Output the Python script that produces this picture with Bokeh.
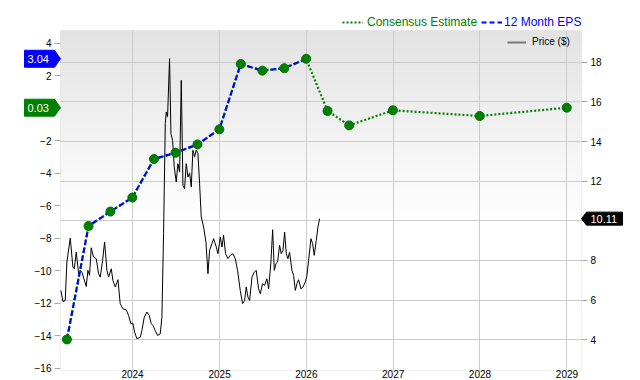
import numpy as np
import pandas as pd
from bokeh.plotting import figure
from bokeh.models import (Range1d, LinearAxis, FixedTicker, DatetimeTickFormatter, Grid,
                          Legend, LegendItem, PolyAnnotation, Label, BoxAnnotation)
from bokeh.embed import file_html
from bokeh.resources import INLINE

# ---------------- data ----------------
eps_dates = ["2023-03-31", "2023-06-30", "2023-09-30", "2023-12-31", "2024-03-31", "2024-06-30",
             "2024-09-30", "2024-12-31", "2025-03-31", "2025-06-30", "2025-09-30", "2025-12-31"]
eps_actual = [-14.23, -7.25, -6.36, -5.50, -3.13, -2.74, -2.23, -1.30, 2.72, 2.31, 2.46, 3.04]

est_dates = ["2025-12-31", "2026-03-31", "2026-06-30", "2026-12-31", "2027-12-31", "2028-12-31"]
est_values = [3.04, -0.17, -1.06, -0.13, -0.48, 0.03]

# price ($): time as decimal year, close
price_year = [
    2023.175, 2023.198, 2023.225, 2023.244, 2023.283, 2023.313, 2023.329, 2023.352, 2023.379, 2023.398,
    2023.417, 2023.467, 2023.486, 2023.505, 2023.524, 2023.551, 2023.582, 2023.609, 2023.628, 2023.655,
    2023.678, 2023.705, 2023.724, 2023.755, 2023.774, 2023.801, 2023.832, 2023.858, 2023.889, 2023.927,
    2023.954, 2023.981, 2024.004, 2024.023, 2024.050, 2024.089, 2024.108, 2024.135, 2024.165, 2024.192,
    2024.215, 2024.235, 2024.261, 2024.288, 2024.319, 2024.338, 2024.357, 2024.377, 2024.388, 2024.403,
    2024.426, 2024.442, 2024.461, 2024.480, 2024.503, 2024.522, 2024.542, 2024.561, 2024.580, 2024.599,
    2024.618, 2024.638, 2024.657, 2024.676, 2024.695, 2024.714, 2024.733, 2024.753, 2024.772, 2024.791,
    2024.818, 2024.845, 2024.868, 2024.887, 2024.914, 2024.933, 2024.964, 2024.983, 2025.010, 2025.029,
    2025.048, 2025.071, 2025.098, 2025.125, 2025.156, 2025.183, 2025.209, 2025.240, 2025.267, 2025.290,
    2025.309, 2025.329, 2025.348, 2025.375, 2025.401, 2025.424, 2025.451, 2025.471, 2025.497, 2025.520,
    2025.547, 2025.567, 2025.593, 2025.613, 2025.632, 2025.651, 2025.670, 2025.693, 2025.712, 2025.732,
    2025.751, 2025.770, 2025.789, 2025.808, 2025.835, 2025.854, 2025.874, 2025.893, 2025.912, 2025.939,
    2025.962, 2025.989, 2026.008, 2026.027, 2026.054, 2026.073, 2026.092, 2026.115, 2026.135, 2026.154]
price_close = [
    6.49, 5.93, 5.98, 7.92, 9.13, 7.67, 7.58, 8.42, 7.33, 7.50,
    7.41, 6.69, 7.50, 7.25, 8.64, 8.17, 8.09, 7.33, 7.16, 8.00,
    8.93, 7.50, 7.16, 7.58, 6.99, 6.66, 7.03, 5.82, 5.56, 5.51,
    5.23, 4.81, 4.84, 4.39, 4.05, 4.13, 4.47, 5.14, 5.40, 5.23,
    4.81, 4.72, 4.47, 4.22, 4.30, 5.14, 9.35, 14.90, 15.49, 15.24,
    18.18, 14.40, 14.06, 12.72, 11.96, 12.88, 12.46, 17.09, 11.79, 11.62,
    12.88, 12.21, 12.41, 11.71, 13.56, 13.22, 13.56, 13.39, 11.87, 10.19,
    9.69, 8.93, 7.33, 8.51, 8.85, 9.10, 8.68, 8.34, 9.18, 8.68,
    9.27, 8.34, 8.09, 8.26, 8.34, 8.09, 7.50, 6.49, 5.82, 5.98,
    6.66, 6.15, 5.98, 7.16, 7.41, 7.50, 6.57, 6.32, 6.83, 6.74,
    7.08, 6.57, 7.92, 9.55, 7.50, 7.84, 7.92, 8.76, 8.34, 8.51,
    9.43, 8.34, 8.09, 8.42, 7.50, 7.25, 6.49, 6.83, 7.03, 6.57,
    6.66, 6.91, 7.25, 8.00, 9.10, 8.85, 8.26, 9.01, 9.69, 10.11]

x_tick_years = [2024, 2025, 2026, 2027, 2028, 2029]
eps_ticks = [-16, -14, -12, -10, -8, -6, -4, -2, 0, 2, 4]
price_ticks = [4, 6, 8, 10, 12, 14, 16, 18]

# ---------------- layout constants ----------------
FONT = "Liberation Sans"
GREEN = "#008000"
BLUE = "#0000ff"
GRID = "#cccccc"

W, H = 640, 380
PL, PR, PT, PB = 60, 581, 30, 370          # plot-area box inside the canvas (px)

x_start = pd.Timestamp("2023-03-04")
x_end = pd.Timestamp("2029-03-03")
eps_lo, eps_hi = -16.14, 4.78
pr_lo, pr_hi = 2.45, 19.6


def year_to_ts(y):
    return pd.Timestamp("2024-01-01") + pd.to_timedelta((y - 2024) * 365.25, unit="D")


def ms(ts):
    return pd.Timestamp(ts).value / 1e6


# the frame covers the whole canvas; ranges are widened so that the data
# window maps onto the plot-area box
xs_ms, xe_ms = ms(x_start), ms(x_end)
x_upp = (xe_ms - xs_ms) / (PR - PL)
x_full = Range1d(xs_ms - PL * x_upp, xe_ms + (W - PR) * x_upp)


def full_range(lo, hi):
    upp = (hi - lo) / (PB - PT)
    return Range1d(lo - (H - PB) * upp, hi + PT * upp), upp


y_full, eps_upp = full_range(eps_lo, eps_hi)
pr_full, pr_upp = full_range(pr_lo, pr_hi)


def price_to_eps(v):
    # same vertical position expressed on the left (EPS) scale
    return eps_lo + (v - pr_lo) / pr_upp * eps_upp


p = figure(width=W, height=H, x_axis_type="datetime", x_range=x_full, y_range=y_full,
           output_backend="svg", toolbar_location=None,
           min_border_left=0, min_border_right=0, min_border_top=0, min_border_bottom=0)
p.extra_y_ranges = {"price": pr_full}
p.background_fill_color = "white"
p.border_fill_color = "white"
p.outline_line_color = None

# gradient background (top grey fading to white)
n = 120
grad_bottom = -6.9
shade = np.linspace(255, 227, n).astype(np.uint8)
img = np.zeros((n, 1), dtype=np.uint32)
view = img.view(dtype=np.uint8).reshape((n, 1, 4))
view[:, 0, 0] = shade
view[:, 0, 1] = shade
view[:, 0, 2] = shade
view[:, 0, 3] = 255
p.image_rgba(image=[img], x=xs_ms, y=grad_bottom, dw=xe_ms - xs_ms, dh=eps_hi - grad_bottom,
             level="image")

# plot-area border
p.add_layout(BoxAnnotation(left=xs_ms, right=xe_ms, bottom=eps_lo, top=eps_hi,
                           fill_alpha=0, line_color=GRID, line_width=1, level="underlay"))

# grids
year_ms = [ms(f"{y}-01-01") for y in x_tick_years]
p.xgrid.visible = False
p.ygrid.visible = False
has_cb = "cross_bounds" in Grid.properties()
if has_cb:
    p.add_layout(Grid(dimension=0, ticker=FixedTicker(ticks=year_ms), grid_line_color=GRID,
                      cross_bounds=(eps_lo, eps_hi)))
    p.add_layout(Grid(dimension=1, ticker=FixedTicker(ticks=price_ticks), y_range_name="price",
                      grid_line_color=GRID, cross_bounds=(xs_ms, xe_ms)))
else:
    p.segment(x0=year_ms, x1=year_ms, y0=[eps_lo] * len(year_ms), y1=[eps_hi] * len(year_ms),
              line_color=GRID, level="underlay")
    p.segment(x0=[xs_ms] * len(price_ticks), x1=[xe_ms] * len(price_ticks), y0=price_ticks,
              y1=price_ticks, y_range_name="price", line_color=GRID, level="underlay")

# axes (fixed at the plot-area edges)
p.xaxis.ticker = FixedTicker(ticks=year_ms)
p.xaxis.formatter = DatetimeTickFormatter(years="%Y", months="%Y", days="%Y")
p.xaxis.fixed_location = eps_lo
p.xaxis.major_tick_out = 0
p.xaxis.major_tick_in = 0
p.xaxis.minor_tick_out = 0
p.xaxis.minor_tick_in = 0
p.xaxis.axis_line_color = None
p.xaxis.major_label_standoff = -1

p.yaxis.ticker = FixedTicker(ticks=eps_ticks)
p.yaxis.fixed_location = xs_ms
right = LinearAxis(y_range_name="price", ticker=FixedTicker(ticks=price_ticks), fixed_location=xe_ms)
p.add_layout(right, "right")
p.yaxis[0].bounds = (min(eps_ticks), max(eps_ticks))
right.bounds = (min(price_ticks), max(price_ticks))
for ax in [p.yaxis[0], right]:
    ax.axis_line_color = None
    ax.major_tick_line_color = "#aaaaaa"
    ax.major_tick_out = 6
    ax.major_tick_in = 0
    ax.minor_tick_out = 0
    ax.minor_tick_in = 0
p.yaxis[0].major_label_standoff = 3
right.major_label_standoff = 3
for ax in [p.xaxis[0], p.yaxis[0], right]:
    ax.major_label_text_font = FONT
    ax.major_label_text_font_size = "10px"
    ax.major_label_text_color = "#000000"

# ---------------- renderers ----------------
pr_dt = [year_to_ts(y) for y in price_year]
p.line(pr_dt, price_close, y_range_name="price", line_color="black", line_width=1)

all_dates = pd.to_datetime(eps_dates + est_dates[1:])
all_vals = eps_actual + est_values[1:]
cons_r = p.line(all_dates, all_vals, line_color=GREEN, line_width=2.2, line_dash="2 2")
eps_r = p.line(pd.to_datetime(eps_dates), eps_actual, line_color=BLUE, line_width=2.2, line_dash="5 3")
p.scatter(all_dates, all_vals, size=9, fill_color=GREEN, line_color="#007000", line_width=1)

price_legend_r = p.line([pr_dt[0]], [np.nan], y_range_name="price", line_color="#777777", line_width=2)

# ---------------- legends ----------------
def mk_legend(label, r, color, size, x_left, y_center, gw, standoff, ih):
    return Legend(items=[LegendItem(label=label, renderers=[r])],
                  location=(x_left, H - y_center - ih / 2),
                  background_fill_alpha=0, border_line_alpha=0, padding=0, margin=0,
                  glyph_width=gw, glyph_height=ih, label_height=ih, label_standoff=standoff,
                  label_text_font=FONT, label_text_font_size=size, label_text_color=color)

p.add_layout(mk_legend("Consensus Estimate", cons_r, GREEN, "12px", 342, 21.5, 21, 4, 14))
p.add_layout(mk_legend("12 Month EPS", eps_r, BLUE, "12px", 481, 21.5, 21, 2, 14))
p.add_layout(mk_legend("Price ($)", price_legend_r, "#000000", "10px", 507, 41.5, 19, 6, 12))

# ---------------- value tags ----------------
def left_tag(v, color):
    h = 8.5 * eps_upp
    p.add_layout(PolyAnnotation(xs=[24, 54, 60, 54, 24], ys=[v - h, v - h, v, v + h, v + h],
                                xs_units="canvas", ys_units="data",
                                fill_color=color, fill_alpha=1, line_color=color, line_alpha=1))
    p.add_layout(Label(x=27, y=v, x_units="canvas", y_units="data", text=f"{v:.2f}",
                       text_color="white", text_font=FONT, text_font_size="11px",
                       text_baseline="middle"))

left_tag(eps_actual[-1], BLUE)
left_tag(est_values[-1], GREEN)

last_price = price_close[-1]
yv = price_to_eps(last_price)
h = 6.5 * eps_upp
p.add_layout(PolyAnnotation(xs=[PR, PR + 5, PR + 41, PR + 41, PR + 5],
                            ys=[yv, yv - h, yv - h, yv + h, yv + h],
                            xs_units="canvas", ys_units="data",
                            fill_color="black", fill_alpha=1, line_color="black", line_alpha=1))
p.add_layout(Label(x=PR + 9, y=yv, x_units="canvas", y_units="data",
                   text=f"{last_price:.2f}", text_color="white", text_font=FONT,
                   text_font_size="11px", text_baseline="middle"))

open("out.html", "w").write(file_html(p, INLINE))
